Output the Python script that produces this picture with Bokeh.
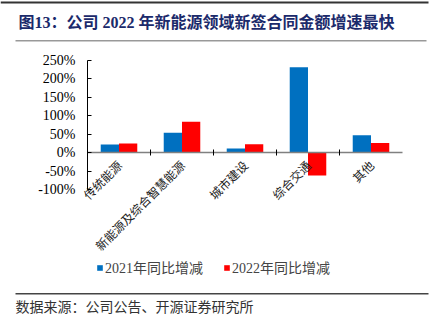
import math
from bokeh.plotting import figure
from bokeh.models import (Range1d, FixedTicker, LinearAxis, Label, PolyAnnotation,
                          Legend, LegendItem, ColumnDataSource, CustomJSTickFormatter)
from bokeh.embed import file_html
from bokeh.resources import INLINE

categories = ["传统能源", "新能源及综合智慧能源", "城市建设", "综合交通", "其他"]
growth_2021 = [22, 54, 11, 232, 47]
growth_2022 = [25, 84, 23, -62, 26]
y_ticks = [-100, -50, 0, 50, 100, 150, 200, 250]
series_names = ["2021年同比增减", "2022年同比增减"]
title_text = "图13：公司 2022 年新能源领域新签合同金额增速最快"
source_text = "数据来源：公司公告、开源证券研究所"

BLUE = "#0070C0"
RED = "#FF0000"
SERIF = "Liberation Serif, Noto Sans CJK SC"
CJK = "Noto Sans CJK SC"

W, H = 433, 326
n = len(categories)
centers = [i + 0.5 for i in range(n)]
bw = 0.29

src = ColumnDataSource(dict(
    xa=[c - bw / 2 for c in centers], xb=[c + bw / 2 for c in centers],
    a=growth_2021, b=growth_2022))

# layout: category unit = 63 px, left edge of categories at x=87 px; 250% at y=60 px, -100% at y=189 px
px_per_cat = 63.0
px_per_pct = (189 - 60) / 350.0
x_start = -87 / px_per_cat
x_end = x_start + W / px_per_cat
y_end = 250 + 60 / px_per_pct
y_start = y_end - H / px_per_pct

p = figure(width=W, height=H, x_range=Range1d(x_start, x_end), y_range=Range1d(y_start, y_end),
           output_backend="svg", toolbar_location=None,
           x_axis_location=None, y_axis_location=None,
           min_border=0, min_border_left=0, min_border_right=0, min_border_top=0, min_border_bottom=0)
p.outline_line_color = None
p.xgrid.grid_line_color = None
p.ygrid.grid_line_color = None
p.grid.visible = False
p.background_fill_color = "white"
p.border_fill_color = "white"

r1 = p.vbar(x="xa", top="a", width=bw, source=src, fill_color=BLUE, line_color=None)
r2 = p.vbar(x="xb", top="b", width=bw, source=src, fill_color=RED, line_color=None)

# y axis
ya = LinearAxis(ticker=FixedTicker(ticks=y_ticks), fixed_location=0, bounds=(-100, 250))
ya.formatter = CustomJSTickFormatter(code="return tick + '%';")
ya.major_label_text_font = SERIF
ya.major_label_text_font_size = "14px"
ya.major_label_text_color = "black"
ya.major_tick_in = 4
ya.major_tick_out = 0
ya.minor_tick_line_color = None
ya.axis_line_color = "black"
ya.major_tick_line_color = "black"
ya.major_label_standoff = 12
p.add_layout(ya, "left")

# category axis at zero
xa = LinearAxis(ticker=FixedTicker(ticks=centers), fixed_location=0, bounds=(0, n))
xa.major_label_overrides = {c: name for c, name in zip(centers, categories)}
xa.axis_line_color = "#808080"
xa.axis_line_width = 1.5
xa.major_tick_line_color = None
xa.minor_tick_line_color = None
xa.major_label_orientation = math.pi / 4
xa.major_label_text_font = CJK
xa.major_label_text_font_size = "12px"
xa.major_label_text_color = "#222222"
xa.major_label_standoff = 4
p.add_layout(xa, "below")

# boundary ticks
tick_axis = LinearAxis(ticker=FixedTicker(ticks=list(range(1, n))), fixed_location=0)
tick_axis.axis_line_color = None
tick_axis.major_label_text_font_size = "0px"
tick_axis.major_label_text_alpha = 0
tick_axis.major_tick_in = 3
tick_axis.major_tick_out = 3
tick_axis.major_tick_line_color = "black"
tick_axis.minor_tick_line_color = None
p.add_layout(tick_axis, "below")

# legend
legend = Legend(items=[LegendItem(label=series_names[0], renderers=[r1]),
                       LegendItem(label=series_names[1], renderers=[r2])],
                orientation="horizontal", location=(96, 49),
                glyph_width=7, glyph_height=7, label_text_font=SERIF,
                label_text_font_size="14px", spacing=20, padding=2, margin=0,
                label_standoff=2, border_line_color=None, background_fill_alpha=0)
p.add_layout(legend, "center")

def sy(y):
    return H - y

p.add_layout(PolyAnnotation(xs=[0, 428, 428, 0], ys=[sy(1), sy(1), sy(3), sy(3)],
                            xs_units="screen", ys_units="screen",
                            fill_color="#333333", fill_alpha=1, line_color=None))
p.add_layout(PolyAnnotation(xs=[15, 426, 426, 15], ys=[sy(39.5), sy(39.5), sy(41), sy(41)],
                            xs_units="screen", ys_units="screen",
                            fill_color="#999999", fill_alpha=1, line_color=None))
p.add_layout(PolyAnnotation(xs=[15, 428, 428, 15], ys=[sy(292.5), sy(292.5), sy(294), sy(294)],
                            xs_units="screen", ys_units="screen",
                            fill_color="#444444", fill_alpha=1, line_color=None))

p.add_layout(Label(x=18, y=sy(22), x_units="screen", y_units="screen", text=title_text,
                   text_font=SERIF, text_font_size="16px", text_font_style="bold",
                   text_color="#1B2A6B", text_baseline="middle", text_align="left"))
p.add_layout(Label(x=15, y=sy(305), x_units="screen", y_units="screen", text=source_text,
                   text_font=CJK, text_font_size="14px",
                   text_color="#333333", text_baseline="middle", text_align="left"))

open("out.html", "w").write(file_html(p, INLINE))
